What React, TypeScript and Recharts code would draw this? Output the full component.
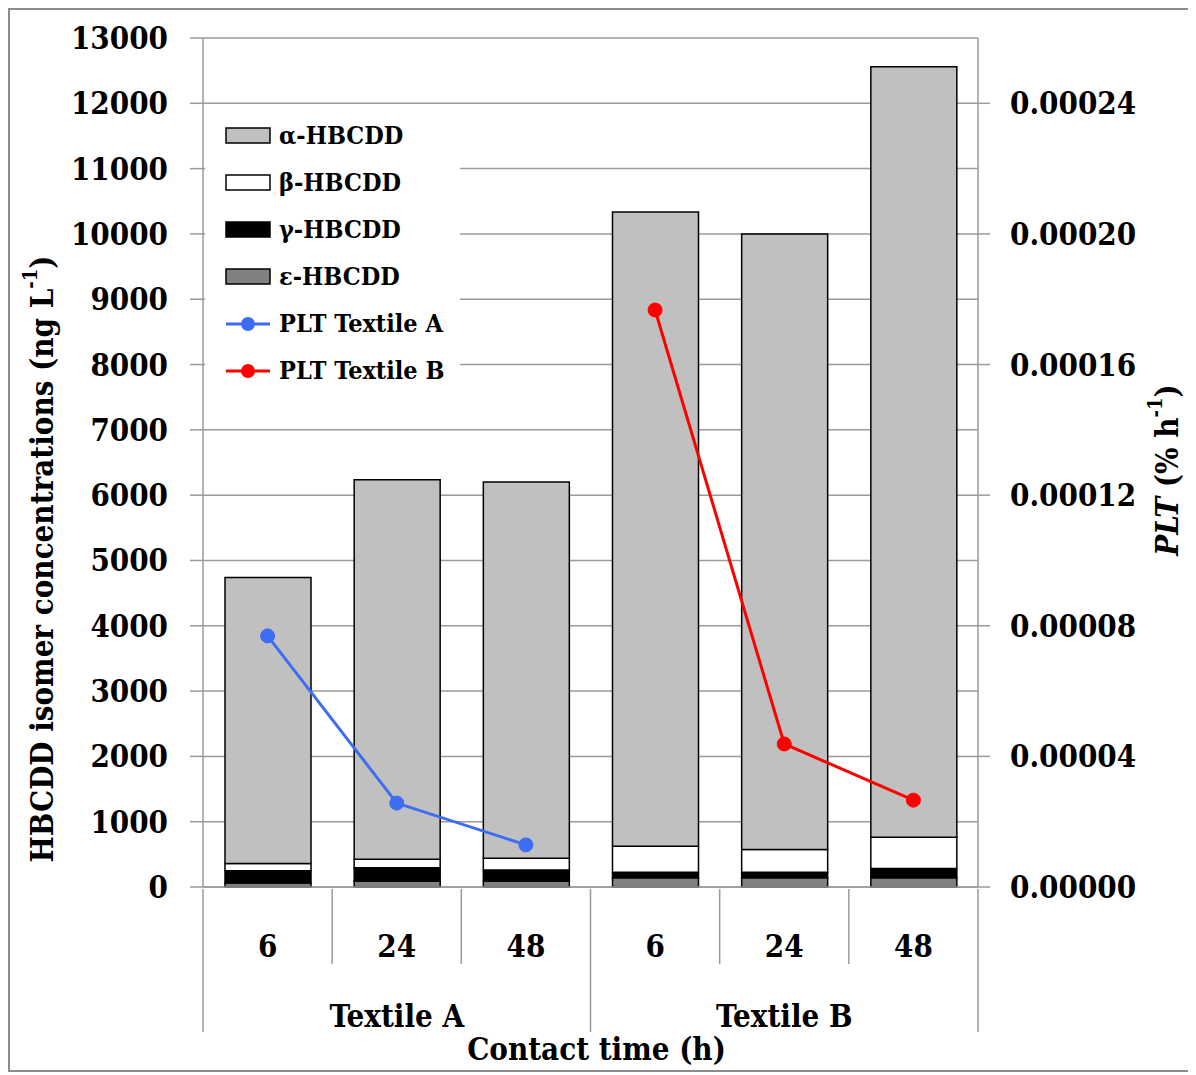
import React from "react";
import {
  ComposedChart,
  Bar,
  Line,
  XAxis,
  YAxis,
  CartesianGrid,
} from "recharts";

const categories = ["6", "24", "48", "6", "24", "48"];
const groups = ["Textile A", "Textile B"];
const epsilon = [60, 90, 90, 140, 140, 140];
const gamma = [190, 205, 170, 85, 85, 145];
const beta = [110, 130, 180, 400, 350, 475];
const alpha = [4380, 5810, 5760, 9710, 9425, 11800];
const pltA = [0.0000769, 0.0000257, 0.0000129, null, null, null];
const pltB = [null, null, null, 0.0001767, 0.0000438, 0.0000266];

const leftTicks = [0, 1000, 2000, 3000, 4000, 5000, 6000, 7000, 8000, 9000, 10000, 11000, 12000, 13000];
const rightTicks = [0, 0.00004, 0.00008, 0.00012, 0.00016, 0.0002, 0.00024];

const FONT = "'DejaVu Serif Condensed', 'DejaVu Serif', serif";
const GRID = "#9a9a9a";

const COLORS = {
  alpha: "#c0c0c0",
  beta: "#ffffff",
  gamma: "#000000",
  epsilon: "#808080",
  a: "#3d6df2",
  b: "#ff0000",
};

const data = categories.map((c, i) => ({
  id: `c${i}`,
  cat: c,
  epsilon: epsilon[i],
  gamma: gamma[i],
  beta: beta[i],
  alpha: alpha[i],
  pltA: pltA[i],
  pltB: pltB[i],
}));

const legendItems = [
  { label: "α-HBCDD", kind: "bar", color: COLORS.alpha },
  { label: "β-HBCDD", kind: "bar", color: COLORS.beta },
  { label: "γ-HBCDD", kind: "bar", color: COLORS.gamma },
  { label: "ε-HBCDD", kind: "bar", color: COLORS.epsilon },
  { label: "PLT Textile A", kind: "line", color: COLORS.a },
  { label: "PLT Textile B", kind: "line", color: COLORS.b },
];

function CategoryTick(props: any) {
  const { x, y, payload } = props;
  const i = payload.index;
  const half = payload.offset || 64.6;
  const longLen = 143;
  const shortLen = 75;
  const leftLen = i === 0 || i === 3 ? longLen : shortLen;
  return (
    <g>
      <line x1={x - half} x2={x - half} y1={y} y2={y + leftLen} stroke={GRID} strokeWidth={1.5} />
      {i === categories.length - 1 && (
        <line x1={x + half} x2={x + half} y1={y} y2={y + longLen} stroke={GRID} strokeWidth={1.5} />
      )}
      <text x={x} y={y + 68} textAnchor="middle" fontFamily={FONT} fontWeight="bold" fontSize={31} fill="#000">
        {categories[i]}
      </text>
      {(i === 1 || i === 4) && (
        <text x={x} y={y + 138} textAnchor="middle" fontFamily={FONT} fontWeight="bold" fontSize={31} fill="#000">
          {groups[i === 1 ? 0 : 1]}
        </text>
      )}
    </g>
  );
}

function Legendbox() {
  return (
    <div
      style={{
        position: "absolute",
        left: 195,
        top: 102,
        width: 255,
        height: 282,
        background: "#fff",
        fontFamily: FONT,
        fontWeight: "bold",
        fontSize: 25,
      }}
    >
      {legendItems.map((it) => (
        <div key={it.label} style={{ height: 47, display: "flex", alignItems: "center" }}>
          <svg width={50} height={20} style={{ marginLeft: 20, marginRight: 4 }}>
            {it.kind === "bar" ? (
              <rect x={1} y={2} width={44} height={15} fill={it.color} stroke="#000" strokeWidth={1.5} />
            ) : (
              <g>
                <line x1={1} x2={45} y1={10} y2={10} stroke={it.color} strokeWidth={3} />
                <circle cx={23} cy={10} r={7} fill={it.color} />
              </g>
            )}
          </svg>
          <span>{it.label}</span>
        </div>
      ))}
    </div>
  );
}

export default function App() {
  return (
    <div
      style={{
        position: "relative",
        width: 1180,
        height: 1060,
        border: "2px solid #8c8c8c",
        background: "#fff",
      }}
    >
      <ComposedChart
        width={1180}
        height={1060}
        data={data}
        margin={{ top: 28, right: 0, bottom: 0, left: 0 }}
        barSize={86}
      >
        <CartesianGrid yAxisId="left" vertical={false} stroke={GRID} strokeWidth={1.5} />
        <XAxis
          dataKey="id"
          height={183}
          interval={0}
          tickLine={false}
          tickSize={0}
          axisLine={{ stroke: GRID, strokeWidth: 1.5 }}
          tick={<CategoryTick />}
          label={{
            content: ({ viewBox }: any) => (
              <text
                x={viewBox.x + viewBox.width / 2 + 6}
                y={viewBox.y + 173}
                textAnchor="middle"
                fontFamily={FONT}
                fontWeight="bold"
                fontSize={31}
                fill="#000"
              >
                Contact time (h)
              </text>
            ),
          }}
        />
        <YAxis
          yAxisId="left"
          width={193}
          domain={[0, 13000]}
          ticks={leftTicks}
          interval={0}
          tickSize={13}
          tickMargin={22}
          tickLine={{ stroke: GRID, strokeWidth: 1.5 }}
          axisLine={{ stroke: GRID, strokeWidth: 1.5 }}
          tick={{ fontFamily: FONT, fontWeight: "bold", fontSize: 31, fill: "#000" }}
          label={{
            content: () => (
              <text
                transform="translate(32, 549) rotate(-90)"
                textAnchor="middle"
                dominantBaseline="central"
                fontFamily={FONT}
                fontWeight="bold"
                fontSize={31}
                fill="#000"
              >
                HBCDD isomer concentrations (ng L
                <tspan fontSize={20} baselineShift="super">-1</tspan>
                <tspan>)</tspan>
              </text>
            ),
          }}
        />
        <YAxis
          yAxisId="right"
          orientation="right"
          width={212}
          domain={[0, 0.00026]}
          ticks={rightTicks}
          interval={0}
          tickSize={12}
          tickMargin={20}
          tickFormatter={(v: number) => v.toFixed(5)}
          tickLine={{ stroke: GRID, strokeWidth: 1.5 }}
          axisLine={{ stroke: GRID, strokeWidth: 1.5 }}
          tick={{ fontFamily: FONT, fontWeight: "bold", fontSize: 31, fill: "#000" }}
          label={{
            content: () => (
              <text
                transform="translate(1157, 460) rotate(-90)"
                textAnchor="middle"
                dominantBaseline="central"
                fontFamily={FONT}
                fontWeight="bold"
                fontSize={31}
                fill="#000"
              >
                <tspan fontStyle="italic">PLT</tspan>
                <tspan> (% h</tspan>
                <tspan fontSize={20} baselineShift="super">-1</tspan>
                <tspan>)</tspan>
              </text>
            ),
          }}
        />
        <Bar yAxisId="left" dataKey="epsilon" stackId="s" fill={COLORS.epsilon} stroke="#000" strokeWidth={1.5} isAnimationActive={false} />
        <Bar yAxisId="left" dataKey="gamma" stackId="s" fill={COLORS.gamma} stroke="#000" strokeWidth={1.5} isAnimationActive={false} />
        <Bar yAxisId="left" dataKey="beta" stackId="s" fill={COLORS.beta} stroke="#000" strokeWidth={1.5} isAnimationActive={false} />
        <Bar yAxisId="left" dataKey="alpha" stackId="s" fill={COLORS.alpha} stroke="#000" strokeWidth={1.5} isAnimationActive={false} />
        <Line
          yAxisId="right"
          dataKey="pltA"
          stroke={COLORS.a}
          strokeWidth={3}
          dot={{ r: 7, fill: COLORS.a, stroke: COLORS.a, strokeWidth: 1 }}
          isAnimationActive={false}
        />
        <Line
          yAxisId="right"
          dataKey="pltB"
          stroke={COLORS.b}
          strokeWidth={3}
          dot={{ r: 7, fill: COLORS.b, stroke: COLORS.b, strokeWidth: 1 }}
          isAnimationActive={false}
        />
      </ComposedChart>
      <Legendbox />
    </div>
  );
}
